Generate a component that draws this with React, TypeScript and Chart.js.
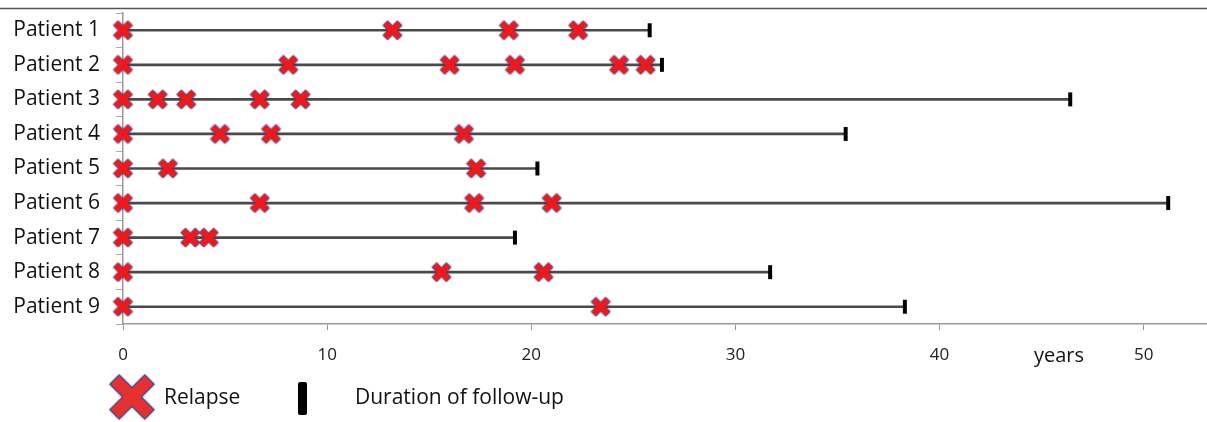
import React, { useEffect, useRef } from "react";
import { Chart, registerables } from "chart.js";

Chart.register(...registerables);

const patients = ["Patient 1", "Patient 2", "Patient 3", "Patient 4", "Patient 5", "Patient 6", "Patient 7", "Patient 8", "Patient 9"];
const followUpYears = [25.8, 26.4, 46.4, 35.4, 20.3, 51.2, 19.2, 31.7, 38.3];
const relapseYears: number[][] = [
  [0, 13.2, 18.9, 22.3],
  [0, 8.1, 16.0, 19.2, 24.3, 25.6],
  [0, 1.7, 3.1, 6.7, 8.7],
  [0, 4.75, 7.25, 16.7],
  [0, 2.2, 17.3],
  [0, 6.7, 17.2, 21.0],
  [0, 3.3, 4.2],
  [0, 15.6, 20.6],
  [0, 23.4],
];
const xTickValues = [0, 10, 20, 30, 40, 50];
const axisMax = 53.1;
const FONT = "'Open Sans', Lato, sans-serif";

function crossPath(ctx: CanvasRenderingContext2D, cx: number, cy: number, size: number, arm: number) {
  const h = size / 2;
  const a = arm / Math.SQRT2;
  ctx.beginPath();
  ctx.moveTo(cx - h + a, cy - h);
  ctx.lineTo(cx, cy - a);
  ctx.lineTo(cx + h - a, cy - h);
  ctx.lineTo(cx + h, cy - h + a);
  ctx.lineTo(cx + a, cy);
  ctx.lineTo(cx + h, cy + h - a);
  ctx.lineTo(cx + h - a, cy + h);
  ctx.lineTo(cx, cy + a);
  ctx.lineTo(cx - h + a, cy + h);
  ctx.lineTo(cx - h, cy + h - a);
  ctx.lineTo(cx - a, cy);
  ctx.lineTo(cx - h, cy - h + a);
  ctx.closePath();
}

function drawCross(ctx: CanvasRenderingContext2D, cx: number, cy: number, size: number, arm: number, fill: string) {
  ctx.save();
  ctx.shadowColor = "rgba(30,30,110,0.75)";
  ctx.shadowBlur = size > 30 ? 3 : 2;
  crossPath(ctx, cx, cy, size, arm);
  ctx.fillStyle = fill;
  ctx.fill();
  ctx.shadowBlur = 0;
  ctx.lineWidth = size > 30 ? 1.5 : 1;
  ctx.strokeStyle = "rgba(70,70,140,0.8)";
  ctx.stroke();
  ctx.restore();
}

function makeCrossCanvas(size: number, arm: number) {
  const c = document.createElement("canvas");
  const pad = 3;
  c.width = size + pad * 2;
  c.height = size + pad * 2;
  const ctx = c.getContext("2d")!;
  drawCross(ctx, c.width / 2, c.height / 2, size, arm, "#f01818");
  return c;
}

export default function App() {
  const ref = useRef<HTMLCanvasElement | null>(null);

  useEffect(() => {
    document.body.style.margin = "0";
    const canvas = ref.current;
    if (!canvas) return;

    const crossImg = makeCrossCanvas(19, 6.5);

    const relapsePoints: { x: number; y: string }[] = [];
    relapseYears.forEach((arr, i) => arr.forEach((v) => relapsePoints.push({ x: v, y: patients[i] })));
    const endPoints = followUpYears.map((v, i) => ({ x: v, y: patients[i] }));

    const decor = {
      id: "decor",
      afterDraw(chart: any) {
        const ctx = chart.ctx as CanvasRenderingContext2D;
        ctx.save();
        ctx.strokeStyle = "#555";
        ctx.lineWidth = 1.5;
        ctx.beginPath();
        ctx.moveTo(0, 8.5);
        ctx.lineTo(chart.width, 8.5);
        ctx.stroke();
        ctx.fillStyle = "#111";
        ctx.font = `20px ${FONT}`;
        ctx.textBaseline = "middle";
        ctx.textAlign = "left";
        ctx.fillText("years", 1034, 356);
        drawCross(ctx, 132, 397, 44, 13, "#e53030");
        ctx.font = `21px ${FONT}`;
        ctx.fillText("Relapse", 164, 398);
        ctx.fillStyle = "#000";
        ctx.beginPath();
        (ctx as any).roundRect ? (ctx as any).roundRect(298, 382, 9, 33, 2) : ctx.rect(298, 382, 9, 33);
        ctx.fill();
        ctx.fillStyle = "#111";
        ctx.fillText("Duration of follow-up", 355, 398);
        ctx.restore();
      },
    };

    const chart = new Chart(canvas, {
      type: "bar",
      data: {
        labels: patients,
        datasets: [
          {
            type: "bar",
            label: "Follow-up",
            indexAxis: "y",
            data: followUpYears.map((v) => [0, v]),
            backgroundColor: "#4a4a4a",
            barThickness: 2,
            order: 3,
          } as any,
          {
            type: "scatter",
            label: "Duration of follow-up",
            data: endPoints,
            pointStyle: "line",
            rotation: 90,
            radius: 7,
            borderWidth: 4,
            borderColor: "#000",
            backgroundColor: "#000",
            clip: false,
            order: 2,
          } as any,
          {
            type: "scatter",
            label: "Relapse",
            data: relapsePoints,
            pointStyle: crossImg,
            clip: false,
            order: 1,
          } as any,
        ],
      },
      options: {
        animation: false,
        responsive: false,
        maintainAspectRatio: false,
        layout: { autoPadding: false, padding: { top: 13, right: 0, left: 0, bottom: 0 } },
        plugins: { legend: { display: false }, tooltip: { enabled: false } },
        scales: {
          x: {
            type: "linear",
            min: 0,
            max: axisMax,
            offset: false,
            afterBuildTicks: (s: any) => {
              s.ticks = xTickValues.map((v) => ({ value: v }));
            },
            afterFit: (s: any) => {
              s.height = 98;
              s.paddingLeft = 0;
              s.paddingRight = 0;
            },
            grid: { drawOnChartArea: false, offset: false, tickLength: 6, color: "#999" },
            border: { color: "#999", width: 1.5 },
            ticks: { color: "#222", font: { family: FONT, size: 17 }, padding: 15, maxRotation: 0 },
          },
          y: {
            type: "category",
            labels: patients,
            offset: true,
            afterFit: (s: any) => {
              s.width = 123;
              s.paddingTop = 0;
              s.paddingBottom = 0;
            },
            grid: { drawOnChartArea: false, offset: true, tickLength: 7, color: "#aaa" },
            border: { color: "#999", width: 1.5 },
            ticks: { color: "#111", font: { family: FONT, size: 21 }, padding: 16, crossAlign: "near" },
          },
        },
      } as any,
      plugins: [decor],
    });

    return () => chart.destroy();
  }, []);

  return (
    <div style={{ width: 1207, height: 422 }}>
      <canvas ref={ref} width={1207} height={422} style={{ display: "block" }} />
    </div>
  );
}
